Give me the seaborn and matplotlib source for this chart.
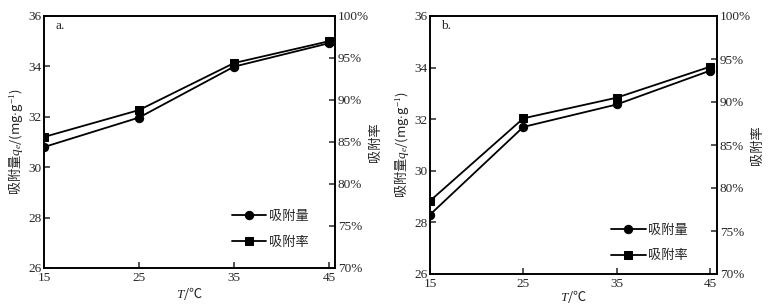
import pandas as pd
import numpy as np
import matplotlib
matplotlib.use('Agg')
import matplotlib.pyplot as plt
import seaborn as sns
from matplotlib.ticker import FuncFormatter

# temperatures (°C)
temps = [15, 25, 35, 45]

# panel a
qe_a = [30.8, 31.97, 33.99, 34.92]
rate_a = [85.6, 88.8, 94.4, 97.0]

# panel b
qe_b = [28.3, 31.7, 32.57, 33.88]
rate_b = [78.5, 88.1, 90.5, 94.1]

panel_labels = ['a.', 'b.']
legend_labels = ['吸附量', '吸附率']

sns.set_style('ticks')
plt.rcParams['font.family'] = ['Liberation Serif', 'Noto Sans CJK SC', 'DejaVu Sans']
plt.rcParams['mathtext.fontset'] = 'custom'
plt.rcParams['mathtext.rm'] = 'Liberation Serif'
plt.rcParams['mathtext.it'] = 'Liberation Serif:italic'
plt.rcParams['xtick.direction'] = 'in'
plt.rcParams['ytick.direction'] = 'in'

cjk = 'Noto Sans CJK SC'
fs = 9.5

fig = plt.figure(figsize=(7.68, 3.04), dpi=100)
ax_a = fig.add_axes([44 / 768, 1 - 268 / 304, 291 / 768, 252 / 304])
ax_b = fig.add_axes([430 / 768, 1 - 274 / 304, 287 / 768, 258 / 304])

panels = [
    (ax_a, qe_a, rate_a, 45.63, (0.95, 0.03), 0.5),
    (ax_b, qe_b, rate_b, 45.75, (0.94, 0.0), -1.5),
]

for i, (ax, qe, rate, xmax, leg_anchor, xpad) in enumerate(panels):
    df = pd.DataFrame({'T': temps, 'qe': qe, 'rate': rate})
    ax2 = ax.twinx()

    sns.lineplot(data=df, x='T', y='qe', ax=ax, color='black', marker='o',
                 markersize=6, linewidth=1.3, markeredgecolor='black',
                 label=legend_labels[0], legend=False)
    sns.lineplot(data=df, x='T', y='rate', ax=ax2, color='black', marker='s',
                 markersize=5.5, linewidth=1.3, markeredgecolor='black',
                 label=legend_labels[1], legend=False)

    ax.set_xlim(15, xmax)
    ax.set_ylim(26, 36)
    ax2.set_ylim(70, 100)
    ax.set_xticks(temps)
    ax.set_yticks(np.arange(26, 37, 2))
    ax2.set_yticks(np.arange(70, 101, 5))
    ax2.yaxis.set_major_formatter(FuncFormatter(lambda v, p: f'{v:.0f}%'))

    for a in (ax, ax2):
        a.tick_params(labelsize=fs, length=4, width=1.1, pad=2)
        for s in a.spines.values():
            s.set_linewidth(1.2)
            s.set_color('black')
    ax.tick_params(axis='x', pad=3)

    ax.set_xlabel('$T$/℃', fontsize=fs, family=cjk, labelpad=xpad)
    ax.set_ylabel(r'吸附量$q_e$/(mg$\cdot$g$^{-1}$)', fontsize=fs, family=cjk, labelpad=2)
    ax2.set_ylabel('吸附率', fontsize=fs, family=cjk, labelpad=0)

    ax.text(0.04, 0.985, panel_labels[i], transform=ax.transAxes,
            fontsize=fs, va='top', ha='left')

    h1, l1 = ax.get_legend_handles_labels()
    h2, l2 = ax2.get_legend_handles_labels()
    ax2.legend(h1 + h2, l1 + l2, loc='lower right', bbox_to_anchor=leg_anchor,
               frameon=False, prop={'family': cjk, 'size': fs},
               handlelength=2.6, handletextpad=0.2, labelspacing=0.95)

fig.savefig('out.png', dpi=100)
